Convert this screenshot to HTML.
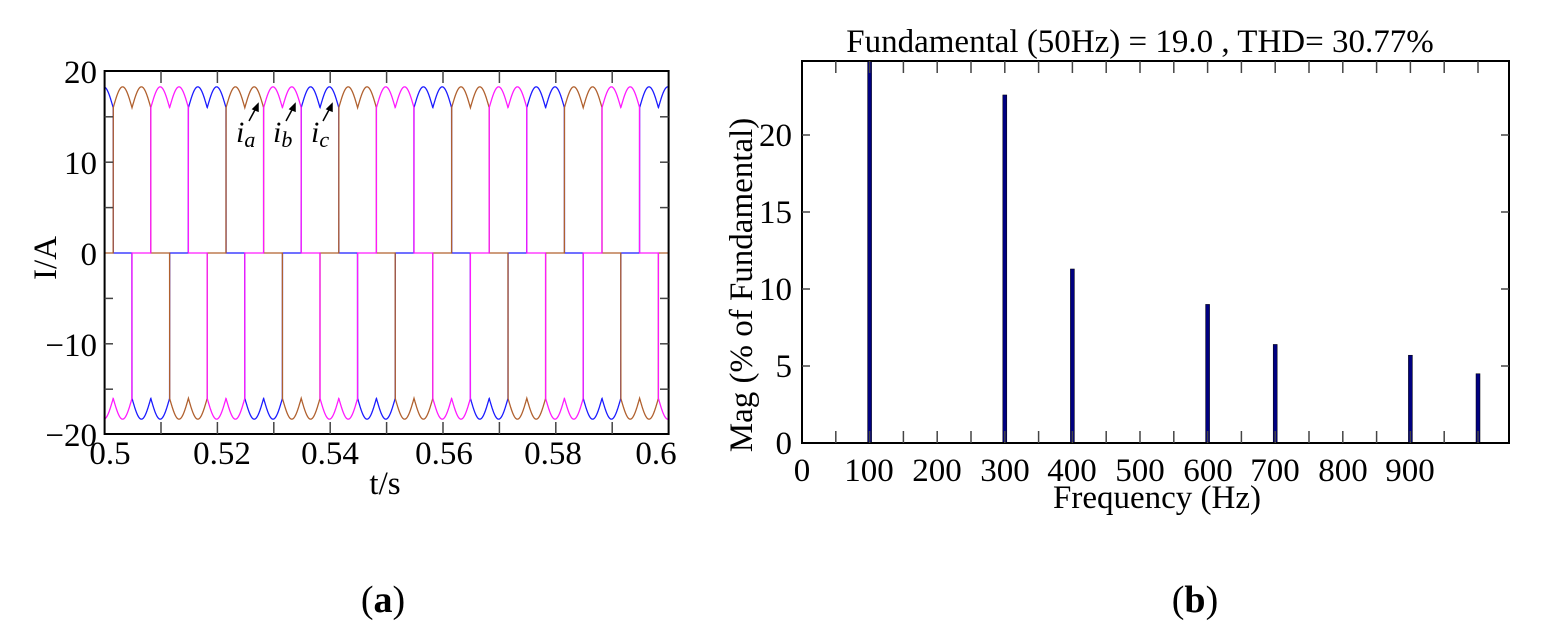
<!DOCTYPE html>
<html><head><meta charset="utf-8"><style>
html,body{margin:0;padding:0;background:#fff;}
svg{display:block;font-family:"Liberation Serif",serif;}
</style></head><body>
<svg id="s" width="1556" height="636" viewBox="0 0 1556 636" xmlns="http://www.w3.org/2000/svg">
<rect width="1556" height="636" fill="#fff"/>
<g id="wave" fill="none" stroke-width="1.3"></g>
<!-- left axes -->
<rect x="104.6" y="71" width="564" height="363" fill="none" stroke="#000" stroke-width="2"/>
<g id="lt" stroke="#444" stroke-width="1.5"></g>
<g font-size="33" fill="#000" text-anchor="end">
<text x="97" y="83">20</text>
<text x="97" y="174">10</text>
<text x="97" y="265">0</text>
<text x="97" y="356">−10</text>
<text x="97" y="446">−20</text>
</g>
<g font-size="33" fill="#000" text-anchor="middle">
<text x="110" y="464">0.5</text>
<text x="222" y="464">0.52</text>
<text x="330" y="464">0.54</text>
<text x="444" y="464">0.56</text>
<text x="553" y="464">0.58</text>
<text x="656" y="464">0.6</text>
<text x="385" y="494">t/s</text>
<text transform="translate(56,258) rotate(-90)">I/A</text>
</g>
<g font-size="30" font-style="italic" fill="#000">
<text x="236" y="142">i<tspan font-size="22" dy="5">a</tspan></text>
<text x="273" y="142">i<tspan font-size="22" dy="5">b</tspan></text>
<text x="311" y="142">i<tspan font-size="22" dy="5">c</tspan></text>
</g>
<g stroke="#000" stroke-width="1.5" fill="#000">
<line x1="249" y1="121" x2="256" y2="108"/><polygon points="258,104 253,109 258,111"/>
<line x1="286" y1="121" x2="293" y2="108"/><polygon points="295,104 290,109 295,111"/>
<line x1="323" y1="121" x2="330" y2="108"/><polygon points="332,104 327,109 332,111"/>
</g>
<!-- right axes -->
<g id="bars"></g>
<rect x="802" y="61" width="707" height="382" fill="none" stroke="#000" stroke-width="2"/>
<g id="rt" stroke="#444" stroke-width="1.5"></g>
<g font-size="33" fill="#000" text-anchor="end">
<text x="792" y="454">0</text>
<text x="792" y="377">5</text>
<text x="792" y="300">10</text>
<text x="792" y="223">15</text>
<text x="792" y="146">20</text>
</g>
<g font-size="33" fill="#000" text-anchor="middle">
<text x="802" y="481">0</text>
<text x="869" y="481">100</text>
<text x="937" y="481">200</text>
<text x="1005" y="481">300</text>
<text x="1072" y="481">400</text>
<text x="1140" y="481">500</text>
<text x="1208" y="481">600</text>
<text x="1275" y="481">700</text>
<text x="1343" y="481">800</text>
<text x="1410" y="481">900</text>
<text x="1157" y="508">Frequency (Hz)</text>
<text x="1140" y="52">Fundamental (50Hz) = 19.0 , THD= 30.77%</text>
<text transform="translate(752,285) rotate(-90)">Mag (% of Fundamental)</text>
</g>
<g font-size="38" fill="#000" text-anchor="middle">
<text x="383" y="612">(<tspan font-weight="bold">a</tspan>)</text>
<text x="1195" y="612">(<tspan font-weight="bold">b</tspan>)</text>
</g>
</svg>
<script>
(function(){
var NS="http://www.w3.org/2000/svg";
function el(p,n,a){var e=document.createElementNS(NS,n);for(var k in a)e.setAttribute(k,a[k]);document.getElementById(p).appendChild(e);}
var x0=104.6,pps=5640;
function X(t){return x0+(t-0.5)*pps;}
function Y(v){return 253-v*9.08;}
var T=0.02,th=T/3,sb=0.5-0.00514;
var ph=[["#1a1aff",sb],["#b0602e",sb+th],["#ff1aff",sb+2*th]];
ph.forEach(function(p){
  var d="",first=true;
  for(var t=0.5;t<=0.6+1e-9;t+=0.00002){
    var u=((t-p[1])%T+T)%T,v;
    if(u<th){v=16+2.3*Math.abs(Math.sin(Math.PI*u/(T/6)));}
    else if(u<th+T/6){v=0;}
    else if(u<2*th+T/6){var w=u-th-T/6;v=-(16+2.3*Math.abs(Math.sin(Math.PI*w/(T/6))));}
    else v=0;
    d+=(first?"M":"L")+X(t).toFixed(2)+","+Y(v).toFixed(2);first=false;
  }
  el("wave","path",{d:d,stroke:p[0]});
});
for(var i=1;i<10;i++){var x=x0+i*56.4;
 el("lt","line",{x1:x,y1:434,x2:x,y2:422});el("lt","line",{x1:x,y1:71,x2:x,y2:83});}
[-15,-10,-5,5,10,15].forEach(function(v){var y=Y(v);
 el("lt","line",{x1:104.6,y1:y,x2:113,y2:y});el("lt","line",{x1:668.6,y1:y,x2:660,y2:y});});
var fx=function(f){return 802+f*0.676;};
for(var f=50;f<=1000;f+=50){var x=fx(f);
 el("rt","line",{x1:x,y1:443,x2:x,y2:431});el("rt","line",{x1:x,y1:61,x2:x,y2:73});}
[5,10,15,20].forEach(function(v){var y=443-v*15.4;
 el("rt","line",{x1:802,y1:y,x2:810,y2:y});el("rt","line",{x1:1509,y1:y,x2:1501,y2:y});});
[[100,100],[300,22.6],[400,11.3],[600,9.0],[700,6.4],[900,5.7],[1000,4.5]].forEach(function(b){
 var y=Math.max(61,443-b[1]*15.4);
 el("bars","rect",{x:fx(b[0])-2,y:y,width:4,height:443-y,fill:"#000080",stroke:"#000",'stroke-width':0.5});});
})();
</script>
</body></html>
